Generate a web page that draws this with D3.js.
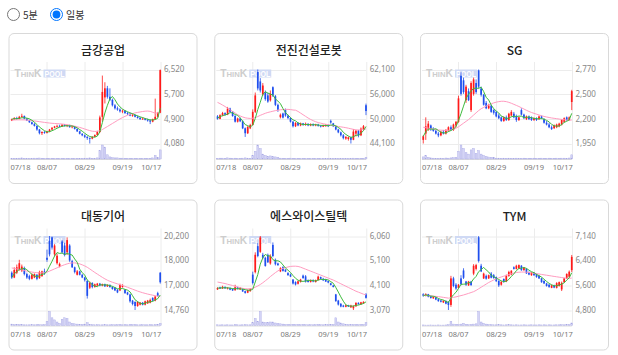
<!DOCTYPE html>
<html>
<head>
<meta charset="utf-8">
<script src="https://cdn.jsdelivr.net/npm/d3@7"></script>
<style>
  body { margin: 0; background: #fff; font-family: "Noto Sans CJK KR", "Noto Sans", sans-serif; }
  .opt { position: absolute; top: 7px; display: flex; align-items: center; font-size: 10px; color: #333; }
  .opt input { margin: 0 3px 0 0; width: 13px; height: 13px; }
  #board { position: absolute; left: 0; top: 0; }
</style>
</head>
<body>
<label class="opt" style="left:7px"><input type="radio" name="period">5분</label>
<label class="opt" style="left:50px"><input type="radio" name="period" checked>일봉</label>
<svg id="board" width="618" height="355"></svg>
<script>
  "use strict";

  const stockNames = ["금강공업", "전진건설로봇", "SG", "대동기어", "에스와이스틸텍", "TYM"];
  const dateLabels = ["07/18", "08/07", "08/29", "09/19", "10/17"];
  const dateIndex = [0, 14, 29, 44, 59];

  // [open, high, low, close] per trading day
  const geumgangOHLC = [
    [4840,4900,4820,4880],[4880,4950,4860,4920],[4920,4960,4870,4890],[4890,4990,4880,4960],[4960,5060,4930,4990],
    [4990,5000,4880,4900],[4900,4920,4820,4840],[4840,4860,4760,4780],[4780,4800,4700,4720],[4720,4760,4640,4660],
    [4660,4680,4500,4540],[4540,4560,4380,4420],[4420,4480,4360,4460],[4460,4490,4400,4430],[4430,4500,4410,4480],
    [4480,4560,4460,4540],[4540,4620,4520,4600],[4600,4660,4580,4640],[4640,4700,4600,4660],[4660,4700,4620,4640],
    [4640,4720,4630,4700],[4700,4720,4640,4660],[4660,4700,4620,4680],[4680,4700,4600,4620],[4620,4660,4580,4640],
    [4640,4650,4540,4560],[4560,4580,4460,4480],[4480,4500,4380,4400],[4400,4420,4320,4350],[4350,4380,4260,4300],
    [4300,4320,4200,4260],[4260,4280,4080,4240],[4240,4320,4220,4300],[4300,4380,4280,4360],[4360,4500,4340,4460],
    [4460,5000,4440,4940],[4960,6320,4800,5780],[5600,6100,5400,5900],[5900,5980,5560,5620],[5620,5900,5480,5520],
    [5520,5560,5300,5340],[5340,5380,5200,5240],[5240,5300,5160,5200],[5200,5240,5100,5140],[5140,5200,5080,5160],
    [5160,5180,5060,5080],[5080,5120,5020,5060],[5060,5100,4980,5000],[5000,5060,4960,5020],[5020,5040,4940,4960],
    [4960,5000,4900,4920],[4920,4960,4860,4880],[4880,4940,4860,4900],[4900,4920,4840,4860],[4860,4900,4800,4840],
    [4840,4880,4720,4800],[4800,4900,4780,4880],[4880,5560,4860,4960],[4960,5120,4940,5080],[5100,6520,5080,6500]
  ];
  const geumgangVol = [4,5,4,6,8,5,4,4,5,6, 6,7,5,4,5,4,5,4,4,3, 3,4,3,3,4,4,5,5,4,6, 6,8,5,4,8,60,100,85,30,15, 10,8,8,6,6,5,5,4,4,4, 4,3,4,4,5,5,8,25,10,65];
  const geumgangMa5 = [4880,4900,4897,4912,4928,4932,4916,4894,4846,4780, 4708,4624,4560,4502,4466,4466,4502,4538,4584,4616, 4648,4660,4668,4660,4660,4632,4596,4540,4486,4418, 4358,4310,4290,4292,4324,4460,4768,5088,5340,5552, 5632,5524,5384,5288,5216,5164,5128,5088,5064,5024, 4992,4956,4936,4904,4880,4856,4856,4868,4912,5244];
  const geumgangMa20 = [4850,4855,4860,4860,4860,4858,4852,4845,4835,4825, 4812,4800,4788,4776,4765,4755,4746,4740,4735,4730, 4722,4712,4700,4686,4670,4652,4632,4610,4585,4558, 4530,4505,4485,4478,4482,4500,4540,4590,4640,4690, 4740,4790,4840,4890,4935,4975,5010,5040,5065,5088, 5105,5120,5135,5145,5150,5140,5110,5080,5090,5140];
  const geumgangTicks = ["4,080", "4,900", "5,700", "6,520"];

  const jeonjinOHLC = [
    [50700,51000,49900,50100],[50100,51200,50000,51000],[51000,51800,50700,51500],[51500,51700,50900,51100],[51100,53000,51000,52600],
    [52600,52800,51600,51800],[51800,52000,50600,50800],[50800,51000,49200,49400],[49400,50400,49200,50200],[50200,50400,49300,49500],
    [49500,49700,47600,47800],[47800,48000,45700,46600],[46600,48400,46400,48100],[47800,48900,47600,48600],[48600,52400,48500,51800],
    [51800,56500,51500,55800],[61500,62100,57000,57500],[59200,60000,56500,57000],[56000,58800,55700,58200],[56500,57000,54500,54900],
    [55800,56400,54000,54300],[54600,57000,54300,56200],[57800,58000,55400,55800],[55600,55900,53200,53500],[53500,53800,51800,52300],
    [50500,51400,50200,51100],[51400,51600,50200,50400],[52200,52600,50600,50900],[50900,51100,50000,50300],[50300,50500,49200,49400],
    [49400,49600,48000,48300],[48300,49300,48100,49100],[49100,49300,48300,48500],[48500,49200,48300,49000],[49000,49100,48400,48600],
    [48600,49200,48400,48900],[48900,49000,48300,48500],[48500,49000,48300,48800],[48800,49000,48300,48500],[48500,48900,48300,48700],
    [48700,48900,48200,48400],[48400,48600,48000,48200],[48200,48700,48100,48600],[48300,48800,48200,48600],[48600,48800,48100,48300],
    [49600,49900,48900,49200],[49000,49100,48100,48300],[48300,48500,47300,47500],[47500,47700,46600,46800],[46800,47000,45800,46100],
    [46100,46400,45100,45400],[45300,45900,45000,45700],[45200,45800,44800,45600],[45600,45800,44100,45000],[45000,47600,44900,47000],
    [46500,47400,45800,47200],[47200,47400,45600,46000],[46100,48000,45900,47700],[47500,48600,47300,48300],[53400,53800,51000,52000]
  ];
  const jeonjinVol = [5,6,6,5,8,6,5,6,4,4, 6,8,6,5,25,55,100,75,35,25, 20,22,18,15,12,6,5,5,4,6, 5,4,5,4,4,4,3,4,3,3, 4,3,3,3,4,3,4,5,4,4, 5,4,4,5,6,4,5,4,5,12];
  const jeonjinMa5 = [50300,50600,50900,51000,51260,51600,51560,51140,50960,50340, 49540,48700,48440,48120,48580,50180,52360,54140,56060,56680, 56380,56120,55880,54940,54420,53780,52620,51640,51000,50420, 49860,49600,49120,48860,48700,48740,48720,48660,48660,48680, 48580,48520,48480,48500,48420,48580,48600,48380,48020,47580, 46820,46300,45920,45560,45740,46100,46160,46580,47240,48240];
  const jeonjinMa20 = [54100,53800,53450,53100,52700,52300,51900,51500,51100,50800, 50550,50350,50250,50200,50250,50400,50650,50950,51200,51450, 51650,51800,51950,52100,52200,52300,52350,52400,52400,52350, 52250,52200,51900,51500,51100,50700,50300,49950,49650,49400, 49200,49050,48900,48780,48660,48550,48450,48350,48250,48150, 48050,47950,47820,47680,47540,47420,47380,47400,47480,47650];
  const jeonjinTicks = ["44,100", "50,000", "56,000", "62,100"];

  const sgOHLC = [
    [1990,2040,1950,2030],[2060,2240,1990,2140],[2110,2200,2090,2170],[2150,2160,2090,2110],[2110,2130,2080,2090],
    [2090,2110,2050,2060],[2060,2080,2020,2040],[2040,2090,2030,2080],[2080,2100,2050,2060],[2060,2110,2050,2100],
    [2090,2140,2080,2130],[2130,2150,2090,2100],[2100,2170,2090,2160],[2150,2200,2130,2190],[2190,2480,2180,2450],
    [2700,2740,2480,2500],[2650,2680,2500,2520],[2430,2600,2400,2580],[2530,2560,2420,2430],[2320,2640,2300,2620],
    [2500,2680,2480,2660],[2620,2660,2500,2520],[2760,2770,2560,2580],[2560,2580,2470,2490],[2490,2500,2370,2380],
    [2400,2420,2330,2340],[2340,2390,2330,2370],[2370,2380,2290,2300],[2320,2330,2270,2290],[2300,2310,2240,2250],
    [2260,2280,2220,2230],[2240,2250,2190,2200],[2200,2250,2190,2240],[2240,2260,2200,2210],[2210,2290,2200,2280],
    [2260,2320,2250,2300],[2280,2300,2230,2240],[2250,2270,2190,2210],[2210,2250,2200,2240],[2320,2340,2260,2270],
    [2270,2280,2220,2230],[2220,2260,2210,2250],[2250,2260,2210,2220],[2240,2250,2200,2210],[2210,2240,2200,2230],
    [2230,2240,2200,2210],[2220,2260,2210,2250],[2250,2260,2220,2230],[2220,2230,2170,2180],[2180,2200,2150,2160],
    [2160,2180,2120,2130],[2130,2150,2100,2110],[2120,2160,2110,2150],[2130,2170,2120,2160],[2140,2180,2130,2170],
    [2160,2220,2150,2210],[2190,2240,2180,2230],[2240,2250,2200,2210],[2210,2250,2200,2240],[2410,2545,2320,2530]
  ];
  const sgVol = [15,25,12,8,6,5,5,6,5,7, 6,8,9,12,55,100,75,45,35,65, 75,40,60,35,25,18,14,12,10,6, 6,5,6,5,6,5,5,6,5,5, 6,5,5,5,6,5,5,6,5,5, 6,5,5,6,5,6,6,5,7,30];
  const sgMa5 = [2030,2080,2110,2110,2108,2114,2094,2076,2066,2068, 2082,2094,2110,2136,2206,2280,2364,2448,2496,2530, 2562,2562,2562,2574,2526,2462,2432,2376,2336,2310, 2288,2254,2242,2226,2232,2246,2254,2248,2254,2252, 2238,2240,2242,2236,2228,2224,2224,2226,2220,2206, 2190,2162,2146,2142,2144,2160,2184,2196,2212,2284];
  const sgMa20 = [2130,2125,2120,2115,2110,2105,2100,2098,2096,2095, 2096,2100,2108,2120,2135,2155,2175,2195,2215,2240, 2265,2290,2315,2335,2350,2365,2378,2390,2400,2408, 2414,2418,2418,2414,2406,2396,2384,2372,2360,2346, 2332,2318,2305,2294,2284,2275,2266,2258,2250,2244, 2238,2233,2229,2225,2221,2217,2213,2210,2208,2210];
  const sgTicks = ["1,950", "2,200", "2,500", "2,770"];

  const daedongOHLC = [
    [17500,17600,17050,17150],[17150,17900,17100,17700],[17500,18100,17400,17900],[17700,18450,17650,18200],[17650,18100,17550,17950],
    [17850,17950,17300,17400],[17400,17500,17050,17150],[17250,17350,16950,17050],[17050,17450,17000,17350],[17150,17450,17100,17400],
    [17350,17400,16950,17050],[17100,17650,17050,17550],[17250,17650,17200,17600],[17600,17800,17350,17450],[18600,19200,18300,18450],
    [19850,20200,18700,18850],[20100,20150,19200,19350],[18850,19600,18700,19500],[18200,18900,18100,18750],[17950,18250,17900,18150],
    [19800,19900,18900,19000],[19500,19700,18700,18800],[19000,20100,18800,19900],[19500,19600,18300,18400],[18350,18450,17850,17900],
    [17900,17950,17450,17550],[17350,17700,17300,17600],[17600,17650,17300,17350],[17350,17400,17100,17150],[17150,17200,16850,16950],
    [16900,16950,15600,15800],[16400,16850,16300,16750],[16750,16800,16350,16450],[16450,16700,16400,16650],[16550,16750,16500,16700],
    [16700,16750,16500,16550],[16550,16700,16500,16650],[16650,16700,16450,16500],[16500,16650,16450,16600],[16600,16650,16400,16450],
    [16450,16500,16250,16300],[16400,16450,16150,16200],[16250,16300,16000,16050],[16200,16700,16150,16600],[16450,16650,16400,16550],
    [16250,16300,15950,16000],[16050,16100,15850,15900],[15900,15950,15300,15400],[15450,15500,15100,15200],[15350,15400,14760,15050],
    [15050,15400,15000,15350],[15150,15350,15100,15300],[15300,15350,15100,15150],[15150,15450,15100,15400],[15250,15500,15200,15450],
    [15300,15600,15250,15500],[15650,15700,15400,15450],[15450,15800,15400,15750],[16000,16100,15750,15800],[17500,17550,16700,16800]
  ];
  const daedongVol = [10,6,8,7,6,5,5,5,6,5, 6,6,5,6,30,100,55,40,25,15, 45,55,50,25,15,12,10,8,8,10, 20,8,6,5,6,5,5,6,5,5, 6,5,6,7,5,6,5,8,7,6, 5,5,6,5,5,6,5,6,7,15];
  const daedongMa5 = [17150,17420,17580,17740,17780,17830,17720,17550,17380,17270, 17200,17280,17390,17410,17620,17980,18340,18720,18980,18920, 18950,18840,18920,18850,18800,18510,18270,17760,17510,17320, 16970,16800,16620,16520,16470,16620,16600,16610,16600,16550, 16500,16410,16320,16320,16340,16280,16220,16090,15810,15510, 15380,15260,15210,15250,15330,15360,15390,15510,15590,15860];
  const daedongMa20 = [17850,17820,17780,17740,17700,17660,17620,17580,17550,17520, 17500,17490,17490,17500,17550,17620,17700,17780,17860,17940, 18020,18090,18150,18200,18220,18220,18200,18150,18080,18000, 17900,17780,17650,17520,17400,17280,17160,17050,16950,16870, 16800,16740,16680,16620,16560,16500,16430,16360,16290,16220, 16150,16090,16030,15980,15930,15890,15850,15810,15780,15760];
  const daedongTicks = ["14,760", "17,000", "18,000", "20,200"];

  const syOHLC = [
    [3900,3990,3880,3960],[3990,4010,3920,3940],[3940,4050,3920,4010],[4000,4030,3920,3950],[3940,3990,3900,3970],
    [3960,3980,3870,3890],[3920,3940,3840,3860],[3870,4090,3850,3990],[3990,4010,3900,3920],[3900,3990,3880,3970],
    [3920,3940,3800,3820],[3830,3850,3730,3760],[3770,3900,3750,3880],[3830,3950,3810,3910],[4500,4620,4100,4160],
    [4600,5400,4550,5300],[5650,5780,5200,5250],[5420,6060,5380,6000],[5300,5380,5120,5180],[5180,5220,4820,4850],
    [5300,5350,4970,5000],[4950,5320,4900,5250],[5700,5800,5200,5250],[5100,5150,4870,4920],[4950,4980,4860,4880],
    [4630,4800,4600,4760],[4800,4840,4620,4650],[4700,4720,4600,4620],[4560,4600,4450,4480],[4500,4540,4400,4420],
    [4300,4320,4100,4140],[4200,4230,4060,4100],[4130,4260,4100,4230],[4200,4330,4180,4300],[4460,4500,4330,4360],
    [4430,4480,4180,4220],[4260,4300,4180,4200],[4200,4300,4180,4280],[4280,4310,4190,4220],[4200,4300,4180,4280],
    [4280,4460,4260,4420],[4400,4420,4300,4330],[4330,4370,4240,4270],[4300,4330,4200,4220],[4240,4260,4150,4180],
    [4150,4170,4060,4080],[4060,4080,3980,4000],[3700,3720,3400,3430],[3450,3480,3250,3290],[3320,3350,3180,3210],
    [3250,3280,3180,3200],[3200,3280,3180,3260],[3260,3280,3190,3210],[3180,3280,3150,3250],[3140,3260,3070,3220],
    [3220,3380,3200,3360],[3360,3380,3290,3300],[3300,3400,3280,3380],[3340,3420,3320,3400],[3700,3750,3530,3560]
  ];
  const syVol = [5,4,5,4,5,4,4,6,5,4, 5,6,5,5,20,50,30,100,25,20, 22,25,25,18,14,12,10,8,7,6, 8,7,6,6,7,6,5,6,5,6, 7,6,5,6,6,7,8,55,25,18, 12,8,7,6,8,7,6,7,8,20];
  const syMa5 = [3960,3950,3970,3965,3966,3952,3936,3932,3926,3926, 3912,3892,3870,3868,3906,4202,4500,4924,5178,5316, 5256,5256,5106,5054,5060,5012,4892,4766,4678,4586, 4462,4352,4274,4238,4226,4242,4262,4272,4256,4240, 4280,4306,4304,4304,4284,4216,4150,3982,3796,3602, 3426,3278,3234,3226,3228,3260,3268,3302,3332,3400];
  const syMa20 = [4200,4180,4160,4140,4110,4085,4060,4030,4000,3970, 3945,3930,3925,3930,3950,3990,4040,4100,4170,4250, 4330,4420,4500,4580,4650,4710,4750,4780,4810,4830, 4840,4840,4830,4800,4760,4720,4680,4640,4600,4560, 4520,4480,4440,4400,4360,4320,4280,4230,4180,4130, 4080,4030,3980,3930,3880,3830,3790,3750,3710,3680];
  const syTicks = ["3,070", "4,100", "5,100", "6,060"];

  const tymOHLC = [
    [5300,5330,5220,5250],[5250,5330,5230,5300],[5300,5310,5200,5220],[5240,5260,5160,5180],[5170,5240,5150,5220],
    [5200,5220,5110,5130],[5140,5160,5060,5080],[5100,5120,5040,5060],[5040,5110,5020,5090],[5090,5100,4980,5000],
    [5060,5080,4800,4960],[4960,5880,4900,5800],[5800,5850,5520,5560],[5600,5650,5440,5480],[5500,5620,5480,5600],
    [5800,5900,5580,5620],[6050,6120,5780,5820],[5700,5720,5560,5600],[5580,5720,5560,5700],[5700,5720,5560,5590],
    [5950,6250,5900,6200],[6100,6260,6050,6220],[7100,7140,6300,6350],[6200,6260,6000,6020],[5800,5980,5780,5950],
    [5880,5920,5760,5790],[5800,5920,5780,5900],[5950,6000,5800,5820],[5900,5940,5790,5810],[5840,5860,5690,5710],
    [5720,5740,5530,5580],[5600,5720,5570,5690],[5780,5800,5660,5690],[5700,5920,5680,5880],[5880,6040,5850,6000],
    [5920,6060,5900,6040],[6150,6180,6080,6100],[6100,6230,6080,6200],[6120,6240,6100,6220],[6200,6220,6040,6060],
    [6060,6160,6040,6140],[6100,6120,5940,5960],[6000,6020,5900,5920],[5900,6000,5880,5980],[5980,6000,5880,5900],
    [5940,5960,5820,5840],[5880,5900,5780,5800],[5800,5820,5660,5680],[5720,5740,5620,5640],[5640,5660,5540,5560],
    [5600,5620,5500,5530],[5500,5600,5490,5580],[5580,5600,5490,5510],[5500,5680,5480,5650],[5560,5700,5540,5680],
    [5450,5700,5400,5660],[5680,5820,5660,5800],[5800,5960,5780,5940],[5850,6050,5830,6010],[6060,6540,6000,6480]
  ];
  const tymVol = [4,3,3,4,3,3,4,3,3,4, 6,30,10,8,8,10,15,8,6,6, 10,12,100,25,15,10,8,6,5,5, 6,5,4,5,6,5,4,5,4,4, 5,4,4,5,4,4,5,4,5,4, 5,4,4,5,5,6,5,6,7,18];
  const tymMa5 = [5250,5275,5257,5238,5234,5210,5166,5134,5116,5072, 5038,5182,5282,5360,5480,5612,5616,5624,5668,5666, 5782,5862,6012,6076,6148,6066,6002,5896,5854,5806, 5764,5722,5696,5710,5768,5860,5942,6044,6112,6124, 6144,6116,6060,6012,5980,5920,5888,5840,5772,5704, 5642,5598,5564,5566,5590,5616,5660,5746,5818,5978];
  const tymMa20 = [5270,5262,5254,5246,5238,5230,5222,5212,5200,5188, 5175,5185,5200,5215,5235,5255,5275,5300,5325,5352, 5380,5420,5470,5520,5570,5620,5670,5710,5750,5785, 5815,5845,5870,5895,5920,5945,5965,5985,5995,6000, 6000,5995,5985,5975,5962,5950,5938,5925,5912,5900, 5888,5875,5862,5850,5838,5826,5815,5805,5800,5810];
  const tymTicks = ["4,800", "5,600", "6,400", "7,140"];

  const charts = [
    { ohlc: geumgangOHLC, vol: geumgangVol, ma5: geumgangMa5, ma20: geumgangMa20, ticks: geumgangTicks },
    { ohlc: jeonjinOHLC, vol: jeonjinVol, ma5: jeonjinMa5, ma20: jeonjinMa20, ticks: jeonjinTicks },
    { ohlc: sgOHLC, vol: sgVol, ma5: sgMa5, ma20: sgMa20, ticks: sgTicks },
    { ohlc: daedongOHLC, vol: daedongVol, ma5: daedongMa5, ma20: daedongMa20, ticks: daedongTicks },
    { ohlc: syOHLC, vol: syVol, ma5: syMa5, ma20: syMa20, ticks: syTicks },
    { ohlc: tymOHLC, vol: tymVol, ma5: tymMa5, ma20: tymMa20, ticks: tymTicks },
  ];

  const cardW = 188, cardH = 150;
  const plot = { left: 2, right: 153, top: 36.5, bottom: 110.5, volTop: 112, volBottom: 126, gridTop: 29 };
  const upColor = "#ff1a1a", downColor = "#1f4fee";
  const svg = d3.select("#board");

  charts.forEach((c, k) => {
    const col = k % 3, row = Math.floor(k / 3);
    const g = svg.append("g")
      .attr("transform", `translate(${8.5 + col * 205.75},${33 + row * 166.5})`);

    g.append("rect")
      .attr("x", 0.5).attr("y", 0.5)
      .attr("width", cardW).attr("height", cardH)
      .attr("rx", 5)
      .attr("fill", "#fff")
      .attr("stroke", "#d9d9d9");

    g.append("text")
      .attr("x", cardW / 2 + 0.5).attr("y", 21.5)
      .attr("text-anchor", "middle")
      .attr("font-size", 12).attr("font-weight", 500)
      .attr("fill", "#222")
      .text(stockNames[k]);

    const x = d3.scaleBand().domain(d3.range(c.ohlc.length)).range([plot.left, plot.right]);
    const cx = (i) => x(i) + x.bandwidth() / 2;
    const lo = d3.min(c.ohlc, (d) => d[2]), hi = d3.max(c.ohlc, (d) => d[1]);
    const y = d3.scaleLinear().domain([lo, hi]).range([plot.bottom, plot.top]);
    const yv = d3.scaleLinear().domain([0, d3.max(c.vol)]).range([plot.volBottom, plot.volTop]);

    // grid
    const tickPos = c.ticks.map((t, j) => lo + (j * (hi - lo)) / 3);
    g.append("g").selectAll("line").data(tickPos).enter().append("line")
      .attr("x1", plot.left).attr("x2", cx(59))
      .attr("y1", (d) => Math.round(y(d)) + 0.5).attr("y2", (d) => Math.round(y(d)) + 0.5)
      .attr("stroke", "#ececec");
    g.append("g").selectAll("line").data(dateIndex.slice(1)).enter().append("line")
      .attr("x1", (d) => Math.round(cx(d)) + 0.5).attr("x2", (d) => Math.round(cx(d)) + 0.5)
      .attr("y1", plot.gridTop).attr("y2", plot.volBottom)
      .attr("stroke", "#ececec");
    g.append("line")
      .attr("x1", plot.left).attr("x2", cx(59))
      .attr("y1", plot.volBottom + 0.5).attr("y2", plot.volBottom + 0.5)
      .attr("stroke", "#dcdcdc");

    // watermark
    const wm = g.append("g").attr("transform", "translate(6,44)");
    wm.append("text")
      .attr("font-family", "Arial, 'Liberation Sans', sans-serif")
      .attr("font-weight", "bold").attr("fill", "#cdcdcd").attr("font-size", 7.5)
      .attr("textLength", 27).attr("lengthAdjust", "spacingAndGlyphs")
      .html('<tspan font-size="10">T</tspan>HIN<tspan font-size="10">K</tspan>');
    wm.append("rect").attr("x", 29).attr("y", -7.5).attr("width", 22).attr("height", 8).attr("fill", "#cfd9f4");
    wm.append("text")
      .attr("x", 30).attr("font-family", "Arial, 'Liberation Sans', sans-serif")
      .attr("font-weight", "bold").attr("fill", "#fff").attr("font-size", 9)
      .attr("textLength", 20).attr("lengthAdjust", "spacingAndGlyphs")
      .text("POOL");

    // volume
    g.append("g").selectAll("rect").data(c.vol).enter().append("rect")
      .attr("x", (d, i) => cx(i) - 0.9)
      .attr("width", 1.8)
      .attr("y", (d) => yv(d))
      .attr("height", (d) => plot.volBottom - yv(d))
      .attr("fill", "#d4d4f6")
      .attr("stroke", "#a7a7e4").attr("stroke-width", 0.4);

    // candles
    const candles = g.append("g").selectAll("g").data(c.ohlc).enter().append("g")
      .attr("fill", (d) => (d[3] >= d[0] ? upColor : downColor))
      .attr("stroke", (d) => (d[3] >= d[0] ? upColor : downColor));
    candles.append("line")
      .attr("x1", (d, i) => cx(i)).attr("x2", (d, i) => cx(i))
      .attr("y1", (d) => y(d[1])).attr("y2", (d) => y(d[2]))
      .attr("stroke-width", 0.8);
    candles.append("rect")
      .attr("x", (d, i) => cx(i) - 0.85)
      .attr("width", 1.7)
      .attr("y", (d) => y(Math.max(d[0], d[3])))
      .attr("height", (d) => Math.max(0.8, Math.abs(y(d[0]) - y(d[3]))))
      .attr("stroke", "none");

    // moving averages
    const line = d3.line().x((d, i) => cx(i)).y((d) => y(d));
    g.append("path").attr("d", line(c.ma20))
      .attr("fill", "none").attr("stroke", "#ff9cc0").attr("stroke-width", 1);
    g.append("path").attr("d", line(c.ma5))
      .attr("fill", "none").attr("stroke", "#3dbb3d").attr("stroke-width", 1);

    // price labels
    g.append("g").selectAll("text").data(c.ticks).enter().append("text")
      .attr("x", 155.5)
      .attr("y", (d, j) => y(tickPos[j]))
      .attr("dy", "0.35em")
      .attr("font-family", "'Noto Sans', sans-serif")
      .attr("font-size", 8).attr("fill", "#888")
      .text((d) => d);

    // date labels
    g.append("g").selectAll("text").data(dateLabels).enter().append("text")
      .attr("x", (d, j) => (j === 0 ? plot.left : j === dateLabels.length - 1 ? cx(dateIndex[j]) + 1 : cx(dateIndex[j])))
      .attr("y", 137)
      .attr("text-anchor", (d, j) => (j === 0 ? "start" : j === dateLabels.length - 1 ? "end" : "middle"))
      .attr("font-family", "'Noto Sans', sans-serif")
      .attr("font-size", 7.5).attr("fill", "#777")
      .text((d) => d);
  });
</script>
</body>
</html>
